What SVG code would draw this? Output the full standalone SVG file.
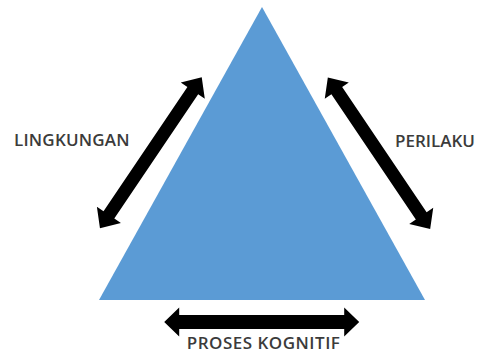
<svg xmlns="http://www.w3.org/2000/svg" width="479" height="353" viewBox="0 0 479 353">
  <defs>
    <style>
      .lbl { font-family: "Open Sans", "Liberation Sans", sans-serif; font-weight: 600; font-size: 17px; fill: #3b3b3b; }
      .arr { fill: #000000; }
    </style>
  </defs>
  <rect x="0" y="0" width="479" height="353" fill="#ffffff"/>
  <g id="triangle">
    <polygon points="262,7 99,300 425,300" fill="#5b9bd5"/>
  </g>
  <g id="connectors">
    <g transform="translate(150.85,152.8) rotate(-56)">
      <polygon class="arr" points="-91,0 -75,-14.5 -75,-6.5 75,-6.5 75,-14.5 91,0 75,14.5 75,6.5 -75,6.5 -75,14.5"/>
    </g>
    <g transform="translate(379,153.25) rotate(56)">
      <polygon class="arr" points="-91.5,0 -75.5,-14.5 -75.5,-6.5 75.5,-6.5 75.5,-14.5 91.5,0 75.5,14.5 75.5,6.5 -75.5,6.5 -75.5,14.5"/>
    </g>
    <g transform="translate(261.7,322)">
      <polygon class="arr" points="-97.5,0 -82.5,-14.5 -82.5,-7 82.5,-7 82.5,-14.5 97.5,0 82.5,14.5 82.5,7 -82.5,7 -82.5,14.5"/>
    </g>
  </g>
  <g id="lingkungan">
    <text class="lbl" x="14" y="145.5" letter-spacing="0.2">LINGKUNGAN</text>
  </g>
  <g id="perilaku">
    <text class="lbl" x="395" y="146.5">PERILAKU</text>
  </g>
  <g id="proses-kognitif">
    <text class="lbl" x="186.7" y="348.5" letter-spacing="0.5">PROSES KOGNITIF</text>
  </g>
</svg>
